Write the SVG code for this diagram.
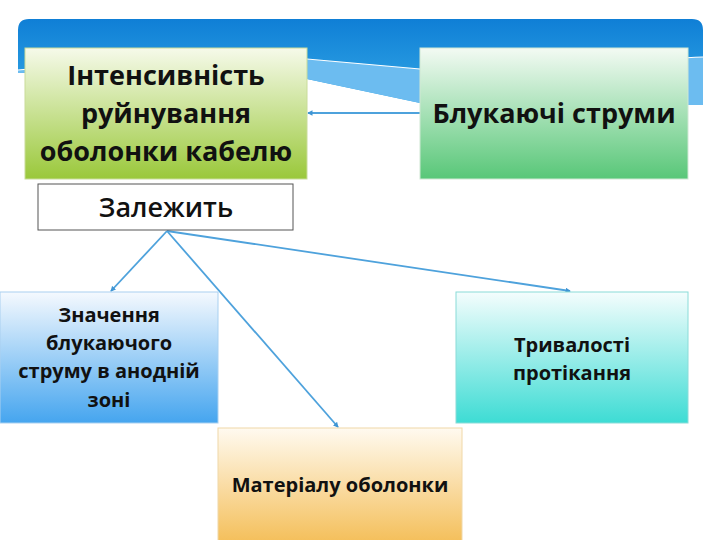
<svg xmlns="http://www.w3.org/2000/svg" width="720" height="540" viewBox="0 0 720 540">
  <defs>
    <linearGradient id="hdr" x1="0" y1="0" x2="0" y2="1">
      <stop offset="0" stop-color="#0f7fd6"/>
      <stop offset="1" stop-color="#35a9e6"/>
    </linearGradient>
    <linearGradient id="gYellowGreen" x1="0" y1="0" x2="0" y2="1">
      <stop offset="0" stop-color="#f6faea"/>
      <stop offset="1" stop-color="#9ac83a"/>
    </linearGradient>
    <linearGradient id="gGreen" x1="0" y1="0" x2="0" y2="1">
      <stop offset="0" stop-color="#f3faf3"/>
      <stop offset="1" stop-color="#58c778"/>
    </linearGradient>
    <linearGradient id="gBlue" x1="0" y1="0" x2="0" y2="1">
      <stop offset="0" stop-color="#f5f9fe"/>
      <stop offset="1" stop-color="#45a5ef"/>
    </linearGradient>
    <linearGradient id="gCyan" x1="0" y1="0" x2="0" y2="1">
      <stop offset="0" stop-color="#f4fdfd"/>
      <stop offset="1" stop-color="#3ddcd4"/>
    </linearGradient>
    <linearGradient id="gOrange" x1="0" y1="0" x2="0" y2="1">
      <stop offset="0" stop-color="#fffaf0"/>
      <stop offset="1" stop-color="#f4bd55"/>
    </linearGradient>
    <marker id="arr" viewBox="0 0 6 6" refX="5" refY="3" markerWidth="3" markerHeight="3" orient="auto">
      <path d="M0,0 L6,3 L0,6 z" fill="#3f95d4"/>
    </marker>
    <style>
      .t { font-family: "Open Sans", "Noto Sans", "DejaVu Sans", sans-serif; font-weight: bold; fill: #111; text-anchor: middle; }
      .big { font-size: 27px; }
      .small { font-size: 20px; }
      .conn { stroke: #4ea2dc; stroke-width: 1.8; fill: none; marker-end: url(#arr); }
    </style>
  </defs>

  <rect width="720" height="540" fill="#ffffff"/>

  <g id="header">
    <path d="M18,30 Q18,19 29,19 L692,19 Q703,19 703,30 L703,105 C 600,105 470,108 420,103 L307,79 C 230,70 120,72 18,73 Z" fill="url(#hdr)"/>
    <path d="M18,70 C 150,58 240,56 307,59 L420,69 C 520,74 620,60 703,57 L703,105 C 600,105 470,108 420,103 L307,79 C 230,70 120,72 18,73 Z" fill="#6cbcf0"/>
    <path d="M18,70 C 150,58 240,56 307,59 L420,69 C 520,74 620,60 703,57" stroke="#ffffff" stroke-width="1.2" fill="none"/>
  </g>

  <g id="connectors">
    <line class="conn" x1="420" y1="113" x2="308" y2="113"/>
    <line class="conn" x1="167" y1="231" x2="111" y2="291"/>
    <line class="conn" x1="167" y1="231" x2="570" y2="291"/>
    <line class="conn" x1="167" y1="231" x2="338" y2="427"/>
  </g>

  <g id="node-intensity">
    <rect x="25" y="48" width="282" height="131" fill="url(#gYellowGreen)" stroke="#c9dc9a" stroke-width="1"/>
    <text class="t big" x="166" y="85">Інтенсивність</text>
    <text class="t big" x="166" y="123">руйнування</text>
    <text class="t big" x="166" y="161">оболонки кабелю</text>
  </g>

  <g id="node-stray">
    <rect x="420" y="48" width="268" height="131" fill="url(#gGreen)" stroke="#cfe8d4" stroke-width="1"/>
    <text class="t big" x="554" y="123">Блукаючі струми</text>
  </g>

  <g id="node-depends">
    <rect x="38" y="184" width="255" height="46" fill="#ffffff" stroke="#555" stroke-width="1"/>
    <text class="t big" x="166" y="217" style="font-weight:600">Залежить</text>
  </g>

  <g id="node-value">
    <rect x="0" y="292" width="218" height="131" fill="url(#gBlue)" stroke="#a9d0f0" stroke-width="1"/>
    <text class="t small" x="109" y="322">Значення</text>
    <text class="t small" x="109" y="350">блукаючого</text>
    <text class="t small" x="109" y="378">струму в анодній</text>
    <text class="t small" x="109" y="407">зоні</text>
  </g>

  <g id="node-duration">
    <rect x="456" y="292" width="232" height="131" fill="url(#gCyan)" stroke="#8adcd8" stroke-width="1"/>
    <text class="t small" x="572" y="352">Тривалості</text>
    <text class="t small" x="572" y="380">протікання</text>
  </g>

  <g id="node-material">
    <rect x="218" y="428" width="244" height="118" fill="url(#gOrange)" stroke="#f0d8a8" stroke-width="1"/>
    <text class="t small" x="340" y="492">Матеріалу оболонки</text>
  </g>
</svg>
